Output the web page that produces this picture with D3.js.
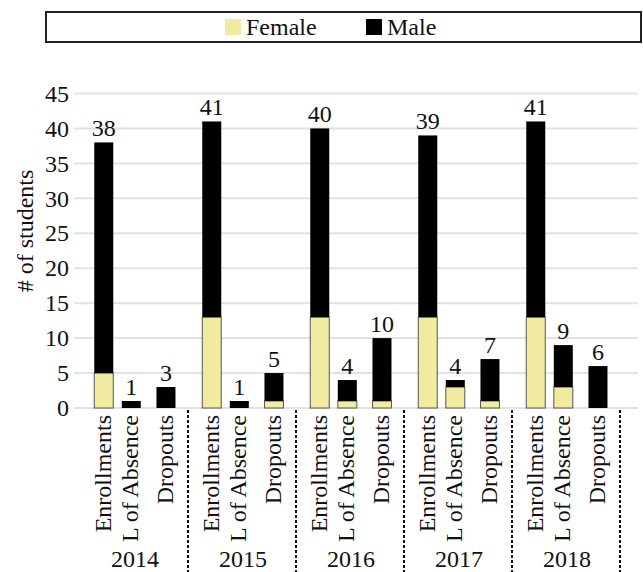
<!DOCTYPE html>
<html>
<head>
<meta charset="utf-8">
<script src="https://cdn.jsdelivr.net/npm/d3@7"></script>
<style>
  html, body { margin: 0; padding: 0; background: #fff; }
</style>
</head>
<body>
<svg id="chart" width="643" height="572"></svg>
<script>
// Student counts per year, split by gender
const years = ["2014", "2015", "2016", "2017", "2018"];
const categories = ["Enrollments", "L of Absence", "Dropouts"];
const femaleValues = [
  [5, 0, 0],
  [13, 0, 1],
  [13, 1, 1],
  [13, 3, 1],
  [13, 3, 0]
];
const maleValues = [
  [33, 1, 3],
  [28, 1, 4],
  [27, 3, 9],
  [26, 1, 6],
  [28, 6, 6]
];
const yTicks = [0, 5, 10, 15, 20, 25, 30, 35, 40, 45];
const seriesNames = ["Female", "Male"];
const colors = { Female: "#f0eb9e", Male: "#000000" };

// pick the first serif face that is actually installed
function pickFont(candidates) {
  const ctx = document.createElement("canvas").getContext("2d");
  const sample = "Enrollments L of Absence 2014 # of students";
  const widthWith = f => { ctx.font = `24px ${f}`; return ctx.measureText(sample).width; };
  for (const c of candidates) {
    const q = `"${c}"`;
    if (widthWith(`${q}, monospace`) !== widthWith("monospace") ||
        widthWith(`${q}, sans-serif`) !== widthWith("sans-serif")) return `${q}, serif`;
  }
  return "serif";
}
const FONT = pickFont(["Liberation Serif", "Times New Roman", "Tinos", "Nimbus Roman",
  "Nimbus Roman No9 L", "FreeSerif", "DejaVu Serif", "Noto Serif", "Times"]);

const svg = d3.select("#chart");

const plot = { left: 74, right: 638, top: 93.5, bottom: 408 };

const y = d3.scaleLinear().domain([0, 45]).range([plot.bottom, plot.top]);
const x0 = d3.scaleBand().domain(years).range([80, 620]).padding(0);
// position of each category's bar centre within a year group
const xInner = d3.scaleOrdinal().domain(categories).range([0.22, 0.475, 0.796]);
const barW = 19;

const rows = [];
years.forEach((yr, i) => {
  categories.forEach((cat, j) => {
    const f = femaleValues[i][j], m = maleValues[i][j];
    rows.push({ year: yr, cat, Female: f, Male: m, total: f + m });
  });
});
const stacked = d3.stack().keys(seriesNames)(rows);
const cx = d => x0(d.year) + xInner(d.cat) * x0.bandwidth();

const label = sel => sel.attr("font-family", FONT).style("font-family", FONT)
  .style("font-size", "24px").attr("fill", "#111");

// grid lines
svg.append("g").selectAll("line").data(yTicks).join("line")
  .attr("x1", plot.left).attr("x2", plot.right)
  .attr("y1", d => y(d)).attr("y2", d => y(d))
  .attr("stroke", "#e2e2e2").attr("stroke-width", 2);

// y axis labels
const yAxis = d3.axisLeft(y).tickValues(yTicks).tickSize(0).tickPadding(5);
const gy = svg.append("g").attr("transform", `translate(${plot.left},0)`).call(yAxis);
gy.attr("font-family", FONT);
gy.select(".domain").remove();
gy.selectAll("text").call(label);

svg.append("text")
  .attr("transform", `translate(33,231) rotate(-90)`)
  .attr("text-anchor", "middle")
  .call(label)
  .text("# of students");

// stacked bars
svg.append("g").selectAll("g").data(stacked).join("g")
  .each(function(layer) {
    d3.select(this).selectAll("rect").data(layer).join("rect")
      .attr("x", d => cx(d.data) - barW / 2)
      .attr("width", barW)
      .attr("y", d => y(d[1]))
      .attr("height", d => Math.max(0, y(d[0]) - y(d[1])))
      .attr("fill", colors[layer.key])
      .attr("stroke", layer.key === "Female" ? "#555" : "none")
      .attr("stroke-width", 1)
      .style("display", d => d[1] - d[0] > 0 ? null : "none");
  });

// total labels
svg.append("g").selectAll("text").data(rows).join("text")
  .attr("x", d => cx(d))
  .attr("y", d => y(d.total) - 6)
  .attr("text-anchor", "middle")
  .call(label)
  .text(d => d.total);

// category labels (rotated)
svg.append("g").selectAll("text").data(rows).join("text")
  .attr("transform", d => `translate(${cx(d) - 1},415) rotate(-90)`)
  .attr("text-anchor", "end")
  .attr("dy", "0.33em")
  .call(label)
  .text(d => d.cat);

// year labels
svg.append("g").selectAll("text").data(years).join("text")
  .attr("x", d => x0(d) + x0.bandwidth() / 2 + 1)
  .attr("y", 567)
  .attr("text-anchor", "middle")
  .call(label)
  .text(d => d);

// dashed group separators
svg.append("g").selectAll("line").data(years).join("line")
  .attr("x1", d => x0(d) + x0.bandwidth()).attr("x2", d => x0(d) + x0.bandwidth())
  .attr("y1", 410).attr("y2", 572)
  .attr("stroke", "#111").attr("stroke-width", 2)
  .attr("stroke-dasharray", "3,2");

// legend
const legend = svg.append("g");
legend.append("rect")
  .attr("x", 46).attr("y", 12).attr("width", 595).attr("height", 30)
  .attr("fill", "#fff").attr("stroke", "#222").attr("stroke-width", 2);
const legendX = d3.scaleOrdinal().domain(seriesNames).range([225, 366]);
const items = legend.selectAll("g.item").data(seriesNames).join("g")
  .attr("class", "item")
  .attr("transform", d => `translate(${legendX(d)},19)`);
items.append("rect").attr("width", 16).attr("height", 16)
  .attr("fill", d => colors[d]);
items.append("text").attr("x", 21).attr("y", 16)
  .call(label)
  .text(d => d);
</script>
</body>
</html>
